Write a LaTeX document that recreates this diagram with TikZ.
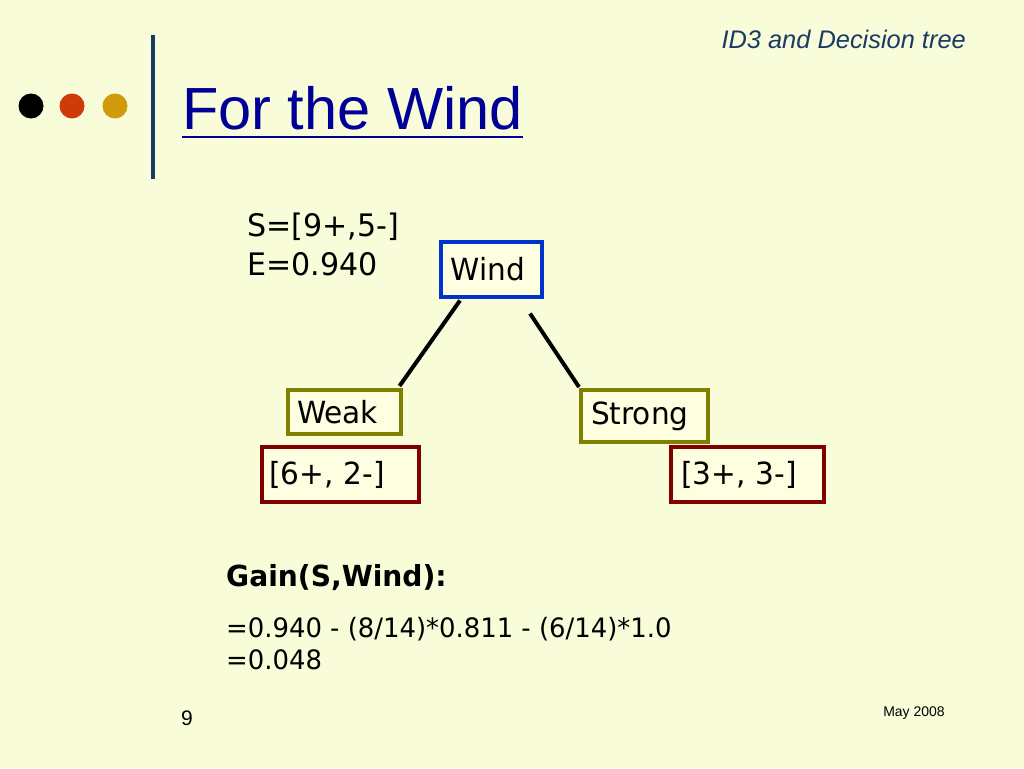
\documentclass[tikz,border=0pt]{standalone}
\usepackage{fontspec}
\setmainfont{DejaVu Sans}[FakeStretch=0.97]
\newfontfamily\arialfont{Liberation Sans}
\usetikzlibrary{calc}
\definecolor{bgc}{HTML}{F8FCD8}
\definecolor{boxfill}{HTML}{FEFEE0}
\definecolor{windblue}{HTML}{0033CC}
\definecolor{olivec}{HTML}{808000}
\definecolor{darkredc}{HTML}{800000}
\definecolor{titleblue}{HTML}{000099}
\definecolor{navyc}{HTML}{1A3A66}
\definecolor{dotred}{HTML}{D03A08}
\definecolor{dotgold}{HTML}{D09A08}
\tikzset{
  treebox/.style={draw, line width=4pt, fill=boxfill, inner sep=0pt, align=left, font=\fontsize{30.5}{34}\selectfont},
  branch/.style={line width=4pt, draw=black},
}
\begin{document}
\begin{tikzpicture}[x=1pt,y=-1pt]
\fill[bgc] (0,0) rectangle (1024,768);
\useasboundingbox (0,0) rectangle (1024,768);
% bullets
\fill[black] (31,106) circle (12.5);
\fill[dotred] (72,106) circle (12.5);
\fill[dotgold] (115,106) circle (12.5);
\draw[navyc, line width=4pt] (153,35) -- (153,179);
% header
\node[anchor=east, text=navyc, font=\arialfont\itshape\fontsize{25.4}{29}\selectfont, inner sep=0pt] (hdr) at (966,39) {ID3 and Decision tree};
\node[anchor=base west, text=titleblue, font=\arialfont\fontsize{59.5}{68}\selectfont, inner sep=0pt] (title) at (182,129) {For the Wind};
\draw[titleblue, line width=2.5pt] (title.base west) ++(0,8) -- ($(title.base east)+(0,8)$);
% S and E
\node[anchor=north west, align=left, inner sep=0pt, font=\fontsize{31}{39}\selectfont] (se) at (247,213) {S=[9+,5-]\\E=0.940};
% boxes
\node[treebox, draw=windblue, text width=101pt, minimum height=55pt] (wind) at (491,269) {\hspace{10pt}Wind};
\node[treebox, draw=olivec, text width=113pt, minimum height=44pt] (weak) at (344.5,412) {\hspace{9pt}Weak};
\node[treebox, draw=olivec, text width=127pt, minimum height=52pt] (strong) at (644.5,416) {\hspace{10pt}Strong};
\node[treebox, draw=darkredc, text width=157pt, minimum height=55pt] (c1) at (340.5,474.5) {\hspace{7pt}[6+, 2-]};
\node[treebox, draw=darkredc, text width=153pt, minimum height=55pt] (c2) at (747.5,474.5) {\hspace{10pt}[3+, 3-]};
% branches
\draw[branch] ($(wind.south)+(-31,2)$) -- ($(weak.north)+(55,-2)$);
\draw[branch] ($(wind.south)+(39,15)$) -- ($(strong.north west)+(0,-1)$);
% gain
\node[anchor=west, inner sep=0pt, font=\bfseries\fontsize{29}{33}\selectfont] (gain) at (226,578) {Gain(S,Wind):};
\node[anchor=north west, align=left, inner sep=0pt, font=\fontsize{26.7}{32}\selectfont] (calc) at (226,617) {=0.940 - (8/14)*0.811 - (6/14)*1.0\\=0.048};
% footer
\node[inner sep=0pt, font=\arialfont\fontsize{21}{24}\selectfont] (pg) at (187,718) {9};
\node[inner sep=0pt, font=\arialfont\fontsize{14}{16}\selectfont] (date) at (914,713.5) {May 2008};
\end{tikzpicture}
\end{document}
